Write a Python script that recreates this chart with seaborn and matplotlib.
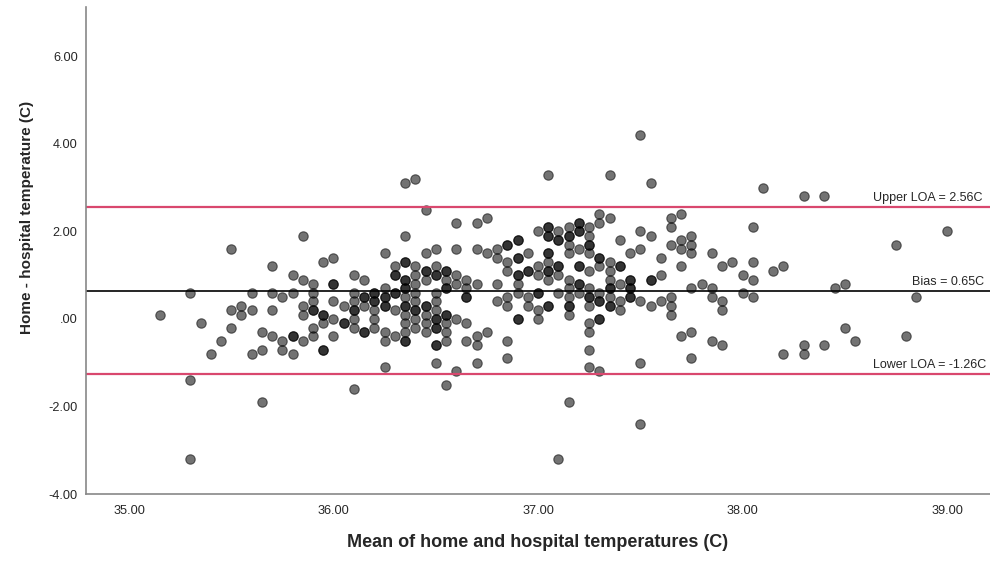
import pandas as pd
import seaborn as sns
import numpy as np
import matplotlib.pyplot as plt

# Bland-Altman: home vs hospital temperature
# values read per column of the mean (x); repeated diffs = overlapping readings
mean_cols = [35.15, 35.3, 35.35, 35.4, 35.45, 35.5, 35.55, 35.6, 35.65, 35.7,
             35.75, 35.8, 35.85, 35.9, 35.95, 36.0, 36.05, 36.1, 36.15, 36.2,
             36.25, 36.3, 36.35, 36.4, 36.45, 36.5, 36.55, 36.6, 36.65, 36.7,
             36.75, 36.8, 36.85, 36.9, 36.95, 37.0, 37.05, 37.1, 37.15, 37.2,
             37.25, 37.3, 37.35, 37.4, 37.45, 37.5, 37.55, 37.6, 37.65, 37.7,
             37.75, 37.8, 37.85, 37.9, 37.95, 38.0, 38.05, 38.1, 38.15, 38.2,
             38.3, 38.4, 38.45, 38.5, 38.55, 38.75, 38.8, 38.85, 39.0]

diff_cols = [
    [0.1],
    [0.6, -1.4, -3.2],
    [-0.1],
    [-0.8],
    [-0.5],
    [1.6, 0.2, -0.2],
    [0.3, 0.1],
    [0.6, 0.2, -0.8],
    [-0.3, -0.7, -1.9],
    [1.2, 0.6, 0.2, -0.4],
    [0.5, -0.5, -0.7],
    [1.0, 0.6, -0.4, -0.4, -0.8],
    [1.9, 0.9, 0.3, 0.1, -0.5],
    [0.8, 0.6, 0.4, 0.2, 0.2, -0.2, -0.4],
    [1.3, 0.1, 0.1, -0.1, -0.7, -0.7],
    [1.4, 0.8, 0.8, 0.4, 0.0, -0.4],
    [0.3, -0.1, -0.1],
    [1.0, 0.6, 0.4, 0.2, 0.2, 0.0, -0.2, -1.6],
    [0.9, 0.5, 0.5, 0.3, -0.3, -0.3],
    [0.6, 0.6, 0.4, 0.4, 0.2, 0.0, -0.2],
    [1.5, 0.7, 0.5, 0.5, 0.3, 0.3, -0.3, -0.5, -1.1],
    [1.2, 1.0, 1.0, 0.6, 0.6, 0.2, -0.4],
    [3.1, 1.9, 1.3, 1.3, 0.9, 0.9, 0.7, 0.7, 0.5, 0.3, 0.3, 0.1, -0.1, -0.3, -0.5, -0.5],
    [3.2, 1.2, 1.0, 0.8, 0.6, 0.4, 0.2, 0.2, 0.0, -0.2],
    [2.5, 1.5, 1.1, 1.1, 0.9, 0.3, 0.3, 0.1, -0.1, -0.3],
    [1.6, 1.2, 1.0, 1.0, 0.6, 0.4, 0.2, 0.0, 0.0, -0.2, -0.2, -0.6, -0.6, -1.0],
    [1.1, 1.1, 0.9, 0.7, 0.7, 0.1, 0.1, -0.1, -0.3, -0.5, -1.5],
    [2.2, 1.6, 1.0, 0.8, 0.0, -1.2],
    [0.9, 0.7, 0.5, 0.5, -0.1, -0.5],
    [2.2, 1.6, 0.8, -0.4, -0.6, -1.0],
    [2.3, 1.5, -0.3],
    [1.6, 1.4, 0.8, 0.4],
    [1.7, 1.7, 1.3, 1.1, 0.5, 0.3, -0.5, -0.9],
    [1.8, 1.8, 1.4, 1.4, 1.0, 1.0, 0.8, 0.6, 0.0, 0.0],
    [1.5, 1.1, 1.1, 0.5, 0.3],
    [2.0, 1.2, 1.0, 0.6, 0.6, 0.2, 0.0],
    [3.3, 2.1, 2.1, 1.9, 1.9, 1.5, 1.5, 1.3, 1.1, 1.1, 0.9, 0.3, 0.3],
    [2.0, 1.8, 1.8, 1.2, 1.2, 1.0, 0.6, -3.2],
    [2.1, 1.9, 1.9, 1.7, 1.5, 0.9, 0.7, 0.5, 0.3, 0.3, 0.1, -1.9],
    [2.2, 2.2, 2.0, 2.0, 1.6, 1.2, 1.2, 0.8, 0.8, 0.6],
    [2.1, 1.9, 1.7, 1.7, 1.5, 1.1, 0.7, 0.5, 0.5, 0.3, -0.1, -0.3, -0.7, -1.1],
    [2.4, 2.2, 1.4, 1.4, 1.2, 0.6, 0.4, 0.4, 0.0, 0.0, -1.2],
    [3.3, 2.3, 1.3, 1.1, 0.9, 0.7, 0.7, 0.5, 0.3, 0.3],
    [1.8, 1.2, 1.2, 0.8, 0.4, 0.2],
    [1.5, 0.9, 0.9, 0.7, 0.7, 0.5, 0.5],
    [4.2, 2.0, 1.6, 0.4, -1.0, -2.4],
    [3.1, 1.9, 0.9, 0.9, 0.3],
    [1.4, 1.0, 0.4],
    [2.3, 2.1, 1.7, 0.5, 0.3, 0.1],
    [2.4, 1.8, 1.6, 1.2, -0.4],
    [1.9, 1.7, 1.5, 0.7, -0.3, -0.9],
    [0.8],
    [1.5, 0.7, 0.5, -0.5],
    [1.2, 0.4, 0.2, -0.6],
    [1.3],
    [1.0, 0.6],
    [2.1, 1.3, 0.9, 0.5],
    [3.0],
    [1.1],
    [1.2, -0.8],
    [2.8, -0.6, -0.8],
    [2.8, -0.6],
    [0.7],
    [0.8, -0.2],
    [-0.5],
    [1.7],
    [-0.4],
    [0.5],
    [2.0],
]

bias = 0.65
upper_loa = 2.56
lower_loa = -1.26

df = pd.DataFrame({
    "mean": np.repeat(mean_cols, [len(d) for d in diff_cols]),
    "diff": [v for d in diff_cols for v in d],
})

sns.set_style("white")
plt.rcParams["font.family"] = ["Liberation Sans", "DejaVu Sans"]

fig = plt.figure(figsize=(9.9, 5.61), dpi=100)
ax = fig.add_axes([0.0869, 0.1194, 0.9131, 0.8681])

sns.scatterplot(data=df, x="mean", y="diff", ax=ax, color="black", alpha=0.55,
                s=46, edgecolor="black", linewidth=0.8)

ax.axhline(upper_loa, color="#d9486e", lw=1.6, zorder=1)
ax.axhline(bias, color="black", lw=1.2, zorder=1)
ax.axhline(lower_loa, color="#d9486e", lw=1.6, zorder=1)

ax.text(39.175, upper_loa + 0.06, "Upper LOA = %.2fC" % upper_loa, ha="right", va="bottom", fontsize=9)
ax.text(39.18, bias + 0.06, "Bias = %.2fC" % bias, ha="right", va="bottom", fontsize=9)
ax.text(39.19, lower_loa + 0.06, "Lower LOA = %.2fC" % lower_loa, ha="right", va="bottom", fontsize=9)

ax.set_xlim(34.79, 39.21)
ax.set_ylim(-4, 7.13)
xt = [35, 36, 37, 38, 39]
yt = [-4, -2, 0, 2, 4, 6]
ax.set_xticks(xt)
ax.set_xticklabels(["%.2f" % v for v in xt])
ax.set_yticks(yt)
ax.set_yticklabels([("%.2f" % v).replace("0.00", ".00") for v in yt])
ax.tick_params(length=0, labelsize=9.2)
ax.tick_params(axis="y", pad=6)
ax.tick_params(axis="x", pad=8)

for side in ["top", "right"]:
    ax.spines[side].set_visible(False)
for side in ["left", "bottom"]:
    ax.spines[side].set_color("#888888")
    ax.spines[side].set_linewidth(1.2)

ax.set_xlabel("Mean of home and hospital temperatures (C)", fontsize=13, fontweight="bold", labelpad=12)
ax.set_ylabel("Home - hospital temperature (C)", fontsize=11, fontweight="bold")
ax.yaxis.set_label_coords(-0.058, 0.567)

plt.savefig("out.png", dpi=100)
